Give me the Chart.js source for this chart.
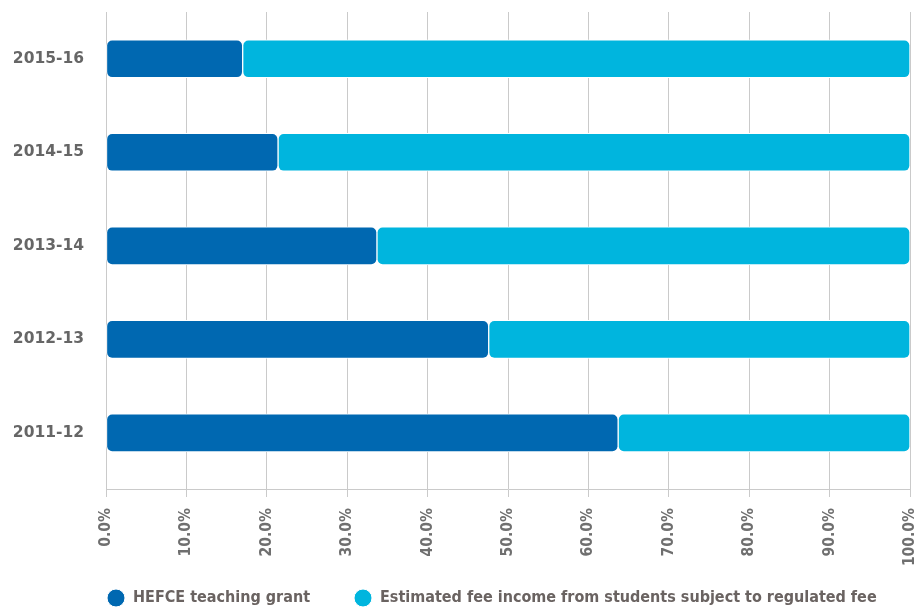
<!DOCTYPE html>
<html>
<head>
<meta charset="utf-8">
<script src="https://cdn.jsdelivr.net/npm/chart.js@4"></script>
<style>
  html, body { margin: 0; padding: 0; background: #fff; overflow: hidden; }
  #wrap { width: 923px; height: 636px; }
</style>
</head>
<body>
<div id="wrap"><canvas id="shareChart"></canvas></div>
<script>
// values (percent of total)
let years = ['2015-16', '2014-15', '2013-14', '2012-13', '2011-12'];
let grant_share = [17.0, 21.4, 33.7, 47.6, 63.7];
let fee_share = [83.0, 78.6, 66.3, 52.4, 36.3];
let x_ticks = [0, 10, 20, 30, 40, 50, 60, 70, 80, 90, 100];

let dark_blue = '#0068b1';
let light_blue = '#00b5de';
let grid_grey = '#cacaca';
let narrow_font = '"DejaVu Sans Condensed", "DejaVu Sans", sans-serif';
let legend_size = 16;

function points(values) {
  return values.map((v, i) => ({x: v, y: i}));
}

// legend sits just under the tick labels, first marker lined up near the 0% line
let legendShift = {
  id: 'legendShift',
  afterLayout(chart) {
    let lg = chart.legend;
    let pad = lg.options.labels.padding;
    lg.left = 107 - pad;
    lg.right = chart.width + 100;
    lg.top = 598 - pad - legend_size / 2;
  }
};

let ctx = document.getElementById('shareChart');

let corner = 6;
let barStyle = {
  stack: 'share',
  barThickness: 38,
  borderWidth: 1,
  borderColor: '#ffffff',
  borderRadius: {topLeft: corner, topRight: corner, bottomLeft: corner, bottomRight: corner},
  borderSkipped: false
};

let shareChart = new Chart(ctx, {
  type: 'bar',
  data: {
    datasets: [
      Object.assign({
        label: 'HEFCE teaching grant',
        data: points(grant_share),
        backgroundColor: dark_blue
      }, barStyle),
      Object.assign({
        label: 'Estimated fee income from students subject to regulated fee',
        data: points(fee_share),
        backgroundColor: light_blue
      }, barStyle)
    ]
  },
  plugins: [legendShift],
  options: {
    indexAxis: 'y',
    responsive: true,
    maintainAspectRatio: false,
    animation: false,
    layout: {
      padding: {top: 12, left: 0, right: 13, bottom: 0}
    },
    scales: {
      x: {
        type: 'linear',
        stacked: true,
        min: 0,
        max: 100,
        afterBuildTicks: (scale) => {
          scale.ticks = x_ticks.map(v => ({value: v}));
        },
        afterFit: (scale) => {
          scale.height = 77;
          scale.paddingLeft = 0;
          scale.paddingRight = 0;
        },
        grid: {
          color: grid_grey,
          lineWidth: 1,
          tickLength: 8
        },
        border: {color: grid_grey, width: 1},
        ticks: {
          maxRotation: 90,
          minRotation: 90,
          padding: 11,
          autoSkip: false,
          color: '#6f6f6f',
          font: {family: narrow_font, size: 15.5, weight: 'bold', lineHeight: 1},
          callback: (v) => v.toFixed(1) + '%'
        }
      },
      y: {
        type: 'linear',
        reverse: true,
        offset: false,
        min: -0.5,
        max: 4.6,
        afterBuildTicks: (scale) => {
          scale.ticks = years.map((_, i) => ({value: i}));
        },
        afterFit: (scale) => {
          scale.width = 106;
          scale.paddingTop = 0;
          scale.paddingBottom = 0;
        },
        grid: {display: false, drawTicks: false},
        border: {display: false},
        ticks: {
          padding: 22,
          autoSkip: false,
          color: '#666666',
          font: {family: '"DejaVu Sans"', size: 15.5, weight: 'bold'},
          callback: (v) => years[v]
        }
      }
    },
    plugins: {
      tooltip: {enabled: false},
      legend: {
        position: 'bottom',
        align: 'start',
        labels: {
          usePointStyle: true,
          pointStyle: 'circle',
          pointStyleWidth: 18,
          boxHeight: 12.73,
          padding: 44,
          color: '#6a6361',
          font: {family: narrow_font, size: legend_size, weight: 'bold'}
        }
      }
    }
  }
});
</script>
</body>
</html>
